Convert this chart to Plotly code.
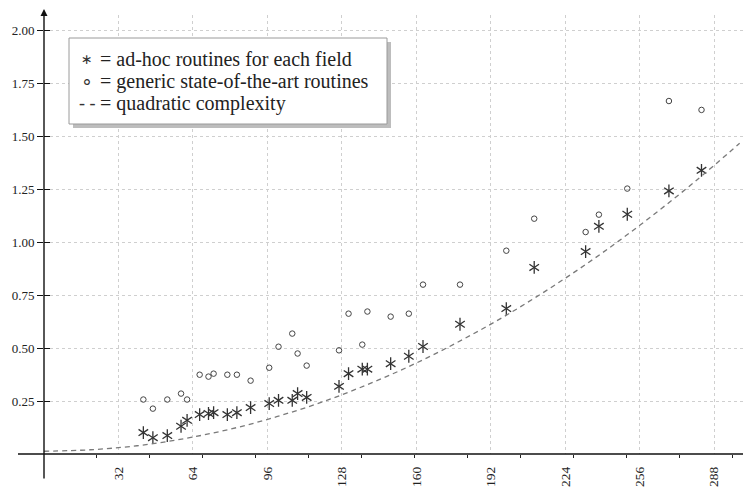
import plotly.graph_objects as go

# ---- data ----
field_bits = [42.7, 46.8, 53.0, 58.9, 61.5, 66.9, 70.7, 72.9, 78.8, 82.9, 88.8, 96.8,
              100.8, 106.7, 109.0, 112.9, 126.8, 130.9, 136.8, 139.0, 149.0, 156.8,
              162.9, 178.8, 198.7, 210.7, 232.8, 238.5, 250.7, 268.6, 282.6]
adhoc_times = [0.101, 0.077, 0.087, 0.131, 0.159, 0.186, 0.191, 0.195, 0.186, 0.195,
               0.219, 0.238, 0.253, 0.253, 0.285, 0.267, 0.319, 0.379, 0.400, 0.400,
               0.426, 0.461, 0.507, 0.612, 0.686, 0.880, 0.955, 1.074, 1.131, 1.241, 1.338]
generic_times = [0.257, 0.214, 0.257, 0.285, 0.257, 0.374, 0.365, 0.379, 0.374, 0.374,
                 0.346, 0.407, 0.506, 0.568, 0.474, 0.417, 0.489, 0.662, 0.516, 0.672,
                 0.648, 0.662, 0.799, 0.799, 0.959, 1.110, 1.047, 1.129, 1.252, 1.665, 1.623]
curve_x = [0, 20, 40, 60, 80, 100, 120, 140, 160, 180, 200, 220, 240, 260, 280, 299]
curve_y = [0.013, 0.020, 0.039, 0.072, 0.117, 0.176, 0.247, 0.332, 0.429, 0.540,
           0.663, 0.800, 0.949, 1.112, 1.287, 1.466]

x_tick_vals = [32, 64, 96, 128, 160, 192, 224, 256, 288]
x_tick_text = ["32", "64", "96", "128", "160", "192", "224", "256", "288"]
x_mark_vals = [22.75 * k for k in range(1, 14)]
y_tick_vals = [0.25, 0.50, 0.75, 1.00, 1.25, 1.50, 1.75, 2.00]
y_tick_text = ["0.25", "0.50", "0.75", "1.00", "1.25", "1.50", "1.75", "2.00"]

legend_symbols = ["∗", "∘", "- -"]
legend_texts = ["= ad-hoc routines for each field",
                "= generic state-of-the-art routines",
                "= quadratic complexity"]

SERIF = "Liberation Serif"
# the page body has an 8px margin: the figure is sized/placed to compensate
OFF = 8
W, H = 751 - OFF, 488 - OFF
ML, MR, MT, MB = 36, 0, 7, 34
PW, PH = W - ML - MR, H - MT - MB
PX_PER_X = 2.3266
PX_PER_Y = 212.0


def px2paper_x(px):  # px in reference-window coordinates
    return (px - OFF - ML) / PW


def px2paper_y(py):
    return (H - MB - (py - OFF)) / PH


fig = go.Figure()

fig.add_trace(go.Scatter(
    x=curve_x, y=curve_y, mode="lines", line_shape="spline",
    line=dict(color="#7a7a7a", width=1.3, dash="5px,4px"),
    showlegend=False, hoverinfo="skip", yaxis="y2"))

fig.add_trace(go.Scatter(
    x=field_bits, y=generic_times, mode="markers",
    marker=dict(symbol="circle-open", size=5.5, color="#444444",
                line=dict(color="#444444", width=1)),
    showlegend=False))

for sym in ["y-up-open", "y-down-open"]:
    fig.add_trace(go.Scatter(
        x=field_bits, y=adhoc_times, mode="markers",
        marker=dict(symbol=sym, size=8, color="#333333",
                    line=dict(color="#333333", width=1.3)),
        showlegend=False))

grid = dict(showgrid=True, gridcolor="#cfcfcf", gridwidth=1, griddash="3px,3px")

fig.update_layout(
    width=W, height=H,
    margin=dict(l=ML, r=MR, t=MT, b=MB, pad=0),
    paper_bgcolor="white", plot_bgcolor="white",
    showlegend=False,
    xaxis=dict(range=[0, PW / PX_PER_X], tickmode="array", tickvals=x_tick_vals,
               ticktext=x_tick_text, tickangle=-90, ticks="", showline=False,
               zeroline=False, ticklabelstandoff=9,
               tickfont=dict(family=SERIF, size=13.5, color="#222"),
               minor=dict(tickmode="array", tickvals=x_mark_vals, ticks="outside",
                          ticklen=3, tickwidth=1.3, tickcolor="#222", showgrid=False),
               **grid),
    yaxis=dict(range=[0, PH / PX_PER_Y], tickmode="array", tickvals=y_tick_vals,
               ticktext=y_tick_text, ticks="outside", ticklen=6, tickwidth=1.3,
               tickcolor="#111", showline=False, zeroline=False,
               tickfont=dict(family=SERIF, size=13, color="#222"), **grid),
    yaxis2=dict(range=[0, PH / PX_PER_Y], overlaying="y", side="left",
                tickmode="array", tickvals=y_tick_vals, ticks="inside", ticklen=6,
                tickwidth=1.3, tickcolor="#111", showticklabels=False,
                showgrid=False, zeroline=False, showline=False),
)

# x axis line (extends a little left of the y axis)
fig.add_shape(type="line", xref="paper", yref="paper",
              x0=px2paper_x(18), x1=1, y0=0, y1=0,
              line=dict(color="#111", width=1.5), layer="above")

# y axis with arrow
fig.add_annotation(x=0, y=px2paper_y(OFF + 1), xref="paper", yref="paper",
                   ax=0, ay=480 - OFF - 1, axref="pixel", ayref="pixel",
                   text="", showarrow=True, arrowhead=2, arrowsize=1,
                   arrowwidth=1.4, arrowcolor="#111")

# legend box with shadow
fig.add_shape(type="rect", xref="paper", yref="paper",
              x0=px2paper_x(73), x1=px2paper_x(391),
              y0=px2paper_y(128), y1=px2paper_y(42),
              fillcolor="#bdbdbd", line=dict(width=0), layer="above")
fig.add_shape(type="rect", xref="paper", yref="paper",
              x0=px2paper_x(69), x1=px2paper_x(387),
              y0=px2paper_y(124), y1=px2paper_y(38),
              fillcolor="white", line=dict(color="#9a9a9a", width=1), layer="above")

line_y = [59, 81.3, 103.3]
sym_fonts = [dict(family="DejaVu Sans", size=14, color="#333"),
             dict(family="DejaVu Sans", size=19, color="#333"),
             dict(family=SERIF, size=18, color="#333")]
for sym, txt, py, sf in zip(legend_symbols, legend_texts, line_y, sym_fonts):
    fig.add_annotation(x=px2paper_x(87), y=px2paper_y(py), xref="paper", yref="paper",
                       text=sym, showarrow=False, xanchor="center", yanchor="middle",
                       font=sf)
    fig.add_annotation(x=px2paper_x(98), y=px2paper_y(py), xref="paper", yref="paper",
                       text=txt, showarrow=False, xanchor="left", yanchor="middle",
                       font=dict(family=SERIF, size=20, color="#222"))

fig.write_html("out.html")
